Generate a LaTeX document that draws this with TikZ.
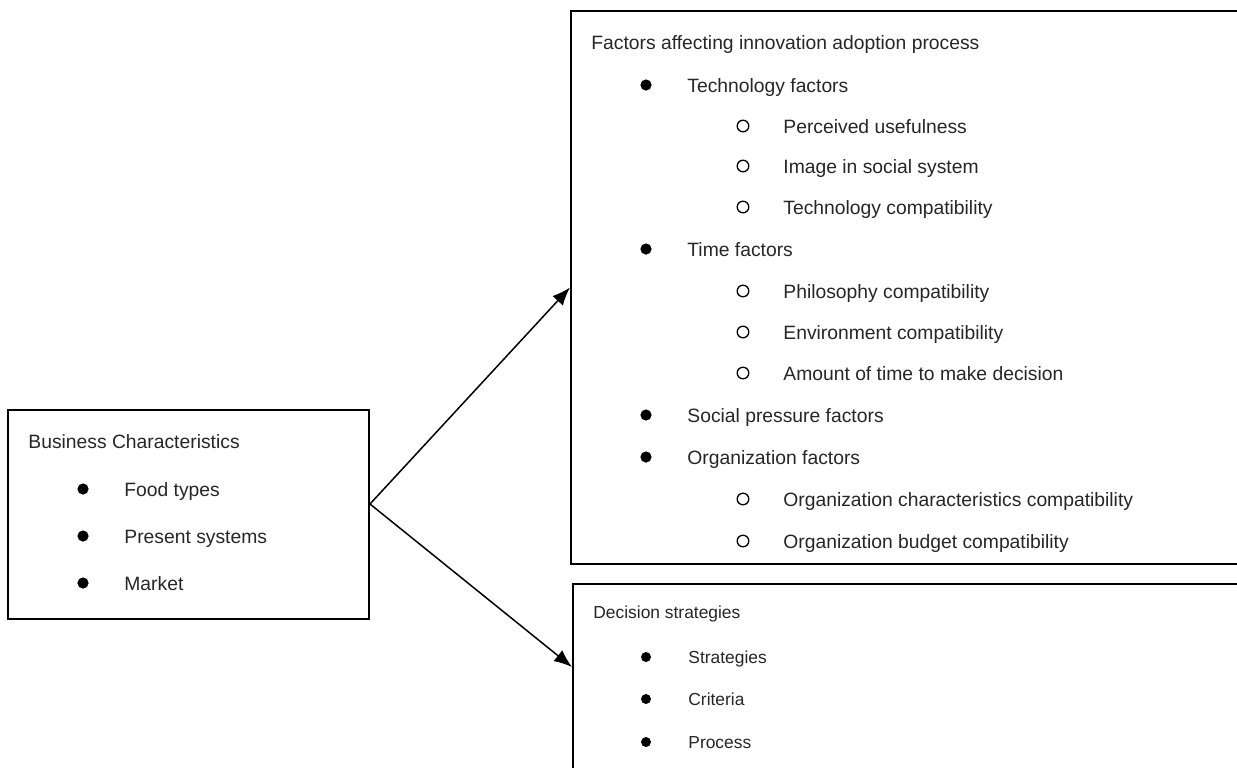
\documentclass[tikz,border=0pt]{standalone}
\usepackage{fontspec}
\setmainfont{Liberation Sans}
\usetikzlibrary{arrows.meta,calc,positioning}

\begin{document}
\begin{tikzpicture}[x=0.5pt,y=-0.5pt,
	box/.style={draw,line width=1pt,anchor=north west,inner sep=0pt},
	txt/.style={anchor=base west,inner sep=0pt,text=black!85,font=\fontsize{9.65}{11}\selectfont},
	small/.style={anchor=base west,inner sep=0pt,text=black!85,font=\fontsize{8.7}{10}\selectfont},
	dot/.style={circle,fill,inner sep=0pt,minimum size=5.6pt},
	ring/.style={circle,draw,line width=0.65pt,inner sep=0pt,minimum size=5.8pt},
	arr/.style={-{Latex[length=9pt,width=7pt]},line width=0.75pt}]
	
	\clip (0,0) rectangle (1237,767);
	
	% boxes
	\node[box,minimum width=180.5pt,minimum height=104.5pt] (biz) at (7,409) {};
	\node[box,minimum width=345pt,minimum height=276.5pt] (fact) at (570,10) {};
	\node[box,minimum width=345pt,minimum height=200pt] (dec) at (572,583) {};
	
	% business characteristics
	\node[txt] (bizt) at (28,448) {Business Characteristics};
	\node[dot] (bd1) at (83,489) {};
	\node[dot] (bd2) at (83,536) {};
	\node[dot] (bd3) at (83,583) {};
	\node[txt] (b1) at (124,496) {Food types};
	\node[txt] (b2) at (124,543) {Present systems};
	\node[txt] (b3) at (124,590) {Market};
	
	% factors
	\node[txt] (factt) at (591,49) {Factors affecting innovation adoption process};
	\node[dot] (fd1) at (646,85) {};
	\node[txt] (f1) at (687,92) {Technology factors};
	\node[ring] (fr11) at (743,126) {};
	\node[txt] (f11) at (783,133) {Perceived usefulness};
	\node[ring] (fr12) at (743,166) {};
	\node[txt] (f12) at (783,173) {Image in social system};
	\node[ring] (fr13) at (743,207) {};
	\node[txt] (f13) at (783,214) {Technology compatibility};
	\node[dot] (fd2) at (646,249) {};
	\node[txt] (f2) at (687,256) {Time factors};
	\node[ring] (fr21) at (743,291) {};
	\node[txt] (f21) at (783,298) {Philosophy compatibility};
	\node[ring] (fr22) at (743,332) {};
	\node[txt] (f22) at (783,339) {Environment compatibility};
	\node[ring] (fr23) at (743,373) {};
	\node[txt] (f23) at (783,380) {Amount of time to make decision};
	\node[dot] (fd3) at (646,415) {};
	\node[txt] (f3) at (687,422) {Social pressure factors};
	\node[dot] (fd4) at (646,457) {};
	\node[txt] (f4) at (687,464) {Organization factors};
	\node[ring] (fr41) at (743,499) {};
	\node[txt] (f41) at (783,506) {Organization characteristics compatibility};
	\node[ring] (fr42) at (743,541) {};
	\node[txt] (f42) at (783,548) {Organization budget compatibility};
	
	% decision strategies
	\node[small] (dect) at (593,618) {Decision strategies};
	\node[dot,minimum size=5pt] (dd1) at (646,657) {};
	\node[dot,minimum size=5pt] (dd2) at (646,699) {};
	\node[dot,minimum size=5pt] (dd3) at (646,742) {};
	\node[small] (d1) at (688,663) {Strategies};
	\node[small] (d2) at (688,705) {Criteria};
	\node[small] (d3) at (688,748) {Process};
	
	% connectors
	\coordinate (split) at ($(biz.east)+(0,-10.5)$);
	\draw[arr] (split) -- (fact.west);
	\draw[arr] (split) -- ($(dec.north west)+(0,84)$);
\end{tikzpicture}
\end{document}
